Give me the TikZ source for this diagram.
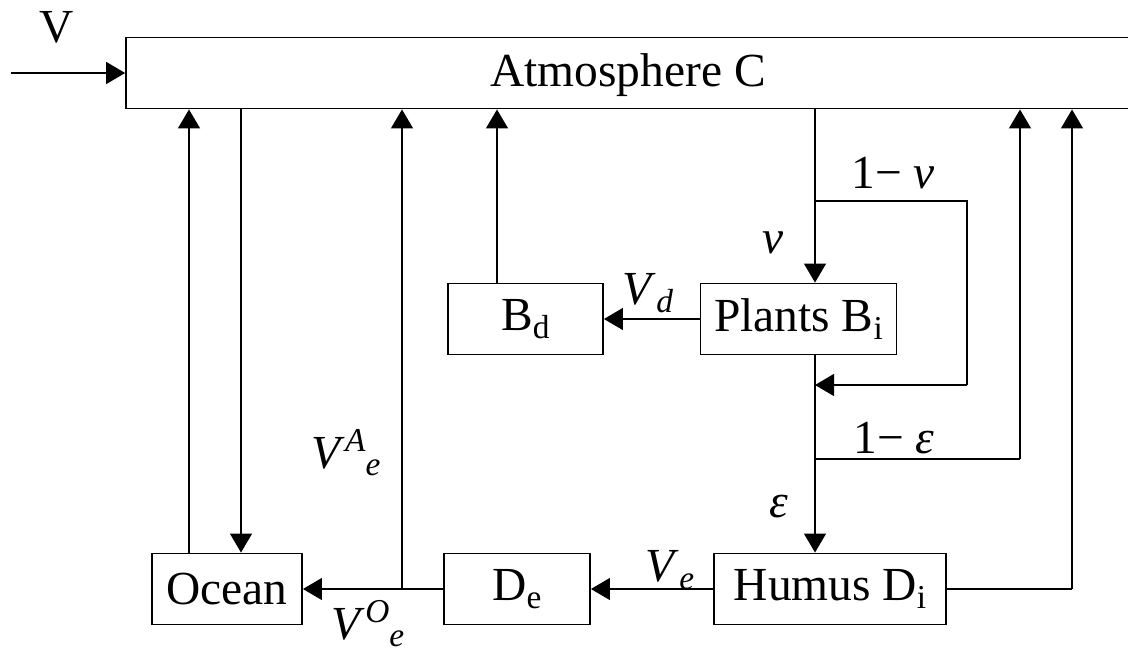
\documentclass[tikz,border=0pt]{standalone}
\usepackage{fontspec}
\setmainfont{Liberation Serif}
\usetikzlibrary{arrows.meta}
\newcommand{\sbs}[1]{\raisebox{-0.35ex}{\fontsize{19}{20}\selectfont #1}}
\newcommand{\sps}[1]{\raisebox{0.75ex}{\fontsize{19}{20}\selectfont #1}}
\begin{document}
\begin{tikzpicture}[x=0.02cm,y=-0.02cm,
  font=\fontsize{27}{32}\selectfont,
  box/.style={draw,line width=1.1pt,inner sep=0pt,minimum height=1.42cm},
  ln/.style={line width=0.8pt},
  arr/.style={ln,-{Triangle[length=0.38cm,width=0.44cm]}},
  lab/.style={inner sep=0pt}]
\clip (0,0) rectangle (1128,652);
\fill[white] (0,0) rectangle (1128,652);
% boxes
\node[box,minimum width=20.2cm] (atm) at (631,73) {};
\node[lab] (atmtxt) at (628,75) {Atmosphere C};
\node[box,minimum width=3.0cm] (ocean) at (227,589) {Ocean};
\node[box,minimum width=2.92cm] (De) at (517,589) {D\sbs{e}};
\node[box,minimum width=3.1cm] (Bd) at (525.5,319) {B\sbs{d}};
\node[box,minimum width=3.92cm] (Plants) at (798.5,319) {Plants B\sbs{i}};
\node[box,minimum width=4.64cm] (Humus) at (830,589) {Humus D\sbs{i}};
% column coordinates
\coordinate (c189) at (189,0);
\coordinate (c241) at (241,0);
\coordinate (c402) at (402,0);
\coordinate (c497) at (497,0);
\coordinate (c815) at (815,0);
\coordinate (c1020) at (1020,0);
\coordinate (c1072) at (1072,0);
\coordinate (vin) at (11,73);
\coordinate (j2) at (815,201);
\coordinate (k1) at (967,201);
\coordinate (k2) at (967,385);
\coordinate (k3) at (815,385);
\coordinate (j3) at (815,459);
\coordinate (m1) at (1020,459);
\coordinate (h1) at (1072,589);
% connectors
\draw[arr] (vin) -- (atm.west);
\draw[arr] (ocean.north -| c189) -- (atm.south -| c189);
\draw[arr] (atm.south -| c241) -- (ocean.north -| c241);
\draw[arr] (De.west) -- (ocean.east);
\coordinate (j1) at (De.west -| c402);
\draw[arr] (j1) -- (atm.south -| c402);
\draw[arr] (Bd.north -| c497) -- (atm.south -| c497);
\draw[arr] (atm.south -| c815) -- (Plants.north -| c815);
\draw[ln] (j2) -- (k1) -- (k2);
\draw[arr] (k2) -- (k3);
\draw[arr] (Plants.west) -- (Bd.east);
\draw[arr] (Plants.south -| c815) -- (Humus.north -| c815);
\draw[ln] (j3) -- (m1);
\draw[arr] (m1) -- (atm.south -| c1020);
\draw[ln] (Humus.east) -- (h1);
\draw[arr] (h1) -- (atm.south -| c1072);
\draw[arr] (Humus.west) -- (De.east);
% labels
\node[lab] (lV) at (57,27) {V};
\node[lab] (lnu1) at (893,173) {1− \textit{ν}};
\node[lab] (lnu) at (773,243) {\textit{ν}};
\node[lab] (leps1) at (894,438) {1− \textit{ε}};
\node[lab] (leps) at (779,507) {\textit{ε}};
\node[lab] (lVd) at (648,293) {\textit{V}\sbs{\textit{d}}};
\node[lab] (lVe) at (670,570) {\textit{V}\sbs{\textit{e}}};
\node[lab] (lVAe) at (346,453) {\textit{V}\sps{\textit{A}}\sbs{\textit{e}}};
\node[lab] (lVOe) at (368,624) {\textit{V}\sps{\textit{O}}\sbs{\textit{e}}};
\end{tikzpicture}
\end{document}
